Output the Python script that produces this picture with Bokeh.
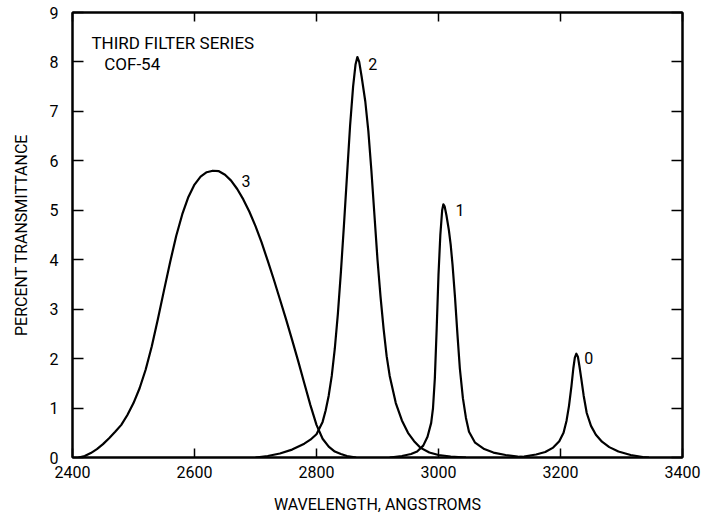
from bokeh.plotting import figure
from bokeh.models import Range1d, LinearAxis, FixedTicker
from bokeh.core.properties import value
from bokeh.embed import file_html
from bokeh.resources import INLINE

# Transmittance curves (wavelength in angstroms, percent transmittance)
wl_3 = [2410, 2420, 2430, 2440, 2450, 2460, 2470, 2480, 2490, 2500, 2510, 2520,
        2530, 2540, 2550, 2560, 2570, 2580, 2590, 2600, 2610, 2620, 2630, 2640,
        2650, 2660, 2670, 2680, 2690, 2700, 2710, 2720, 2730, 2740, 2750, 2760,
        2770, 2780, 2790, 2800, 2810, 2820, 2830, 2840, 2850, 2865]
t_3 = [0.0, 0.03, 0.09, 0.17, 0.27, 0.39, 0.52, 0.66, 0.86, 1.1, 1.4, 1.78,
       2.25, 2.8, 3.38, 3.95, 4.48, 4.92, 5.27, 5.52, 5.68, 5.77, 5.8, 5.79,
       5.72, 5.6, 5.43, 5.22, 4.97, 4.68, 4.35, 3.98, 3.6, 3.2, 2.8, 2.38,
       1.95, 1.5, 1.06, 0.66, 0.38, 0.22, 0.12, 0.07, 0.03, 0.0]

wl_2 = [2700, 2720, 2740, 2760, 2780, 2790, 2800, 2810, 2815, 2820, 2825, 2830,
        2835, 2840, 2845, 2850, 2855, 2860, 2864, 2867, 2870, 2874, 2880, 2885,
        2890, 2895, 2900, 2905, 2910, 2915, 2920, 2930, 2940, 2950, 2960, 2970,
        2985, 3000, 3020, 3045]
t_2 = [0.0, 0.03, 0.08, 0.16, 0.28, 0.36, 0.47, 0.72, 0.95, 1.25, 1.65, 2.2,
       2.9, 3.75, 4.7, 5.7, 6.7, 7.5, 7.95, 8.1, 8.0, 7.7, 7.2, 6.6,
       5.8, 4.9, 4.0, 3.25, 2.6, 2.05, 1.65, 1.1, 0.75, 0.5, 0.33, 0.2,
       0.1, 0.05, 0.02, 0.0]

wl_1 = [2920, 2940, 2955, 2965, 2975, 2982, 2988, 2991, 2994, 2997, 3000, 3003,
        3006, 3008, 3010, 3013, 3017, 3020, 3023, 3027, 3031, 3035, 3040, 3045,
        3050, 3060, 3075, 3090, 3110, 3130, 3150]
t_1 = [0.0, 0.03, 0.07, 0.12, 0.24, 0.42, 0.7, 1.0, 1.6, 2.6, 3.7, 4.5,
       5.0, 5.12, 5.08, 4.9, 4.6, 4.3, 3.9, 3.25, 2.5, 1.8, 1.2, 0.8,
       0.52, 0.3, 0.17, 0.1, 0.05, 0.02, 0.0]

wl_0 = [3120, 3140, 3160, 3175, 3188, 3198, 3205, 3210, 3214, 3218, 3221, 3223.5,
        3226, 3228.5, 3231, 3234, 3238, 3243, 3250, 3258, 3268, 3280, 3295, 3315,
        3335, 3345]
t_0 = [0.0, 0.02, 0.06, 0.11, 0.2, 0.33, 0.5, 0.75, 1.05, 1.45, 1.8, 2.02,
       2.1, 2.04, 1.85, 1.6, 1.25, 0.9, 0.64, 0.46, 0.32, 0.21, 0.12, 0.05,
       0.01, 0.0]

# Curve tags drawn beside each peak
tag_text = ["3", "2", "1", "0"]
tag_x = [2677, 2885, 3028, 3239]
tag_y = [5.59, 7.96, 5.0, 2.02]

x_ticks = [2400, 2600, 2800, 3000, 3200, 3400]
y_ticks = [0, 1, 2, 3, 4, 5, 6, 7, 8, 9]

FONT = "Roboto"

p = figure(width=703, height=520, output_backend="svg", toolbar_location=None,
           x_range=Range1d(2400, 3400), y_range=Range1d(0, 9),
           min_border_left=72, min_border_right=21, min_border_top=12,
           min_border_bottom=63, background_fill_color="white",
           border_fill_color="white")
p.grid.visible = False
p.outline_line_color = "black"
p.outline_line_width = 2

for wl, t in [(wl_3, t_3), (wl_2, t_2), (wl_1, t_1), (wl_0, t_0)]:
    p.line(wl, t, line_color="black", line_width=2.2, line_join="round")

p.text(x=tag_x, y=tag_y, text=tag_text, text_font=value(FONT),
       text_font_size="16px", text_align="left", text_baseline="middle",
       text_color="black")

p.text(x=[2431, 2452], y=[8.38, 7.96], text=["THIRD FILTER SERIES", "COF-54"],
       text_font=value(FONT), text_font_size="17px", text_align="left",
       text_baseline="middle", text_color="black")

# bottom and left axes
xa = p.xaxis[0]
xa.ticker = FixedTicker(ticks=x_ticks)
xa.axis_label = "WAVELENGTH, ANGSTROMS"
ya = p.yaxis[0]
ya.ticker = FixedTicker(ticks=y_ticks)
ya.axis_label = "PERCENT TRANSMITTANCE"

for ax in (xa, ya):
    ax.axis_line_color = "black"
    ax.axis_line_width = 2
    ax.major_tick_line_color = "black"
    ax.major_tick_line_width = 1.5
    ax.major_tick_out = 0
    ax.minor_tick_line_color = None
    ax.major_label_text_font = FONT
    ax.major_label_text_font_size = "16px"
    ax.major_label_text_color = "black"
    ax.axis_label_text_font = FONT
    ax.axis_label_text_font_size = "16px"
    ax.axis_label_text_font_style = "normal"
    ax.axis_label_text_color = "black"

xa.major_tick_in = 9
xa.major_label_standoff = 8
xa.axis_label_standoff = 14
ya.major_tick_in = 11
ya.major_label_standoff = 14
ya.axis_label_standoff = 16

# top and right axes: tick marks only
top = LinearAxis(ticker=FixedTicker(ticks=x_ticks))
right = LinearAxis(ticker=FixedTicker(ticks=y_ticks))
for ax, tick_len in ((top, 9), (right, 11)):
    ax.axis_line_color = "black"
    ax.axis_line_width = 2
    ax.major_tick_line_color = "black"
    ax.major_tick_line_width = 1.5
    ax.major_tick_in = tick_len
    ax.major_tick_out = 0
    ax.minor_tick_line_color = None
    ax.major_label_text_font_size = "0px"
    ax.major_label_text_alpha = 0
    ax.major_label_standoff = 0
p.add_layout(top, "above")
p.add_layout(right, "right")

open("out.html", "w").write(file_html(p, INLINE))
